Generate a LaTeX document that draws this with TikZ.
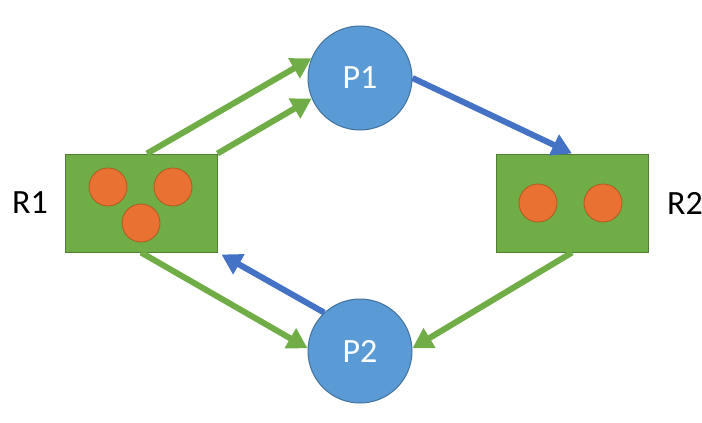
\documentclass[tikz,border=0pt]{standalone}
\usepackage{fontspec}
\setmainfont{Carlito}
\usepackage{xcolor}
\usetikzlibrary{arrows.meta}
\usetikzlibrary{positioning}

\definecolor{resgreen}{HTML}{70AD47}
\definecolor{resedge}{HTML}{507E32}
\definecolor{procblue}{HTML}{5B9BD5}
\definecolor{procedge}{HTML}{41719C}
\definecolor{allocblue}{HTML}{4472C4}
\definecolor{instorange}{HTML}{E97132}
\definecolor{instedge}{HTML}{AE5A21}

\begin{document}
\begin{tikzpicture}[
  x=1pt, y=-1pt,
  every node/.style={font=\fontsize{34}{40}\selectfont},
  proc/.style={circle, draw=procedge, fill=procblue, line width=1pt,
    minimum size=104pt, inner sep=0pt, text=white},
  res/.style={rectangle, draw=resedge, fill=resgreen, line width=1pt,
    minimum width=152pt, minimum height=98pt, inner sep=0pt},
  inst/.style={circle, draw=instedge, fill=instorange, line width=0.8pt,
    minimum size=38pt, inner sep=0pt},
  req/.style={draw=resgreen, line width=6pt,
    -{Triangle[length=20pt,width=22pt]}},
  alloc/.style={draw=allocblue, line width=6pt,
    -{Triangle[length=20pt,width=22pt]}}
]
\useasboundingbox (0,0) rectangle (702,423);

% processes and resources
\node[proc] (P1) at (360,78) {P1};
\node[proc] (P2) at (360,351) {P2};
\node[res] (R1) at (141,203) {};
\node[res] (R2) at (572,203) {};
\node (R1lbl) at (30,203) {R1};
\node (R2lbl) at (685,203) {R2};

% instances
\node[inst] (R1a) at (108,187) {};
\node[inst] (R1b) at (173,187) {};
\node[inst] (R1c) at (141,223) {};
\node[inst] (R2a) at (538,203) {};
\node[inst] (R2b) at (603,203) {};

% edges
\draw[req] ([xshift=6pt]R1.north) -- (P1.158);
\draw[req] (R1.north east) -- (P1.203);
\draw[alloc] (P1.east) -- (R2.north);
\draw[req] (R2.south) -- (P2.3);
\draw[req] (R1.south) -- (P2.177);
\draw[alloc] (P2.133) -- ([xshift=4pt,yshift=-2pt]R1.south east);
\end{tikzpicture}
\end{document}
